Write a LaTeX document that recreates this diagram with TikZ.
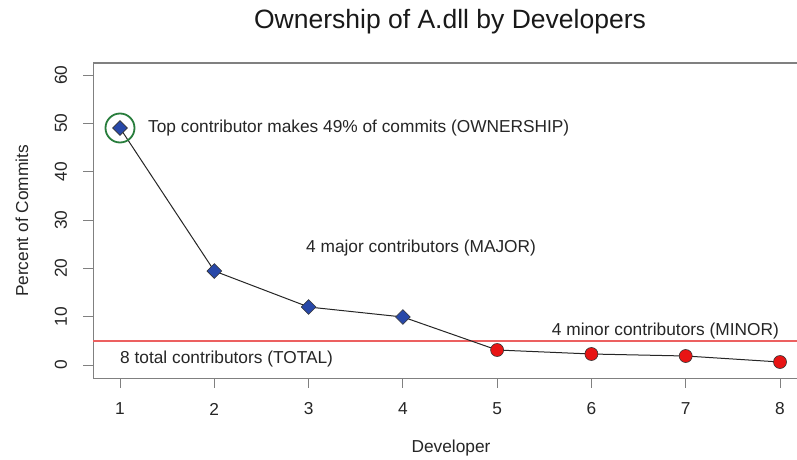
\documentclass[tikz,border=0pt]{standalone}
\usepackage{fontspec}
\setmainfont{Liberation Sans}
\usetikzlibrary{shapes.geometric}
\definecolor{refline}{RGB}{236,96,96}
\definecolor{diamfill}{RGB}{40,72,168}
\definecolor{dotfill}{RGB}{232,20,20}
\definecolor{ringcol}{RGB}{40,125,60}
\definecolor{framecol}{RGB}{128,128,128}
\begin{document}
\begin{tikzpicture}[x=1pt,y=-1pt,
  txt/.style={inner sep=0pt,text=black!85,font=\fontsize{17.3}{20}\selectfont},
  axisline/.style={draw=framecol,line width=1pt},
  diam/.style={diamond,draw=black!80,fill=diamfill,line width=0.6pt,
               minimum size=15pt,inner sep=0pt},
  dot/.style={circle,draw=black!80,fill=dotfill,line width=0.6pt,
              minimum size=13pt,inner sep=0pt},
  ring/.style={circle,draw=ringcol,line width=1.8pt,minimum size=29pt,inner sep=0pt}]
\useasboundingbox (0,0) rectangle (797,460);
\fill[white] (0,0) rectangle (797,460);

% title
\node[txt,font=\fontsize{26.5}{30}\selectfont,text=black!90] (title) at (450,22) {Ownership of A.dll by Developers};

% plot frame (open on the right where the page ends)
\draw[axisline] (798,63) -- (93,63) -- (93,378) -- (798,378);

% y axis ticks and labels
\foreach \v/\yy in {0/365,10/316.7,20/268.3,30/220,40/171.7,50/123.3,60/75}{
  \draw[axisline] (83,\yy) -- (93,\yy);
  \node[txt,rotate=90] (ylab\v) at (61,\yy) {\v};
}
% x axis ticks and labels
\foreach \i/\xx in {1/120,2/214.3,3/308.6,4/402.9,5/497.1,6/591.4,7/685.7,8/780}{
  \draw[axisline] (\xx,378) -- (\xx,388);
  \node[txt] (xlab\i) at (\xx,409) {\i};
}

% axis titles
\node[txt] (xtitle) at (451,448) {Developer};
\node[txt,rotate=90] (ytitle) at (22,221) {Percent of Commits};

% threshold line at 5 percent
\coordinate (thl) at (93,341);
\coordinate (thr) at (797,341);
\draw[draw=refline,line width=1.1pt] (thl) -- (thr);

% data points
\coordinate (p1) at (120,128);
\coordinate (p2) at (214.3,271);
\coordinate (p3) at (308.6,307);
\coordinate (p4) at (402.9,317);
\coordinate (p5) at (497.1,350);
\coordinate (p6) at (591.4,354);
\coordinate (p7) at (685.7,356);
\coordinate (p8) at (780,362);

\draw[black!85,line width=1pt] (p1) -- (p2) -- (p3) -- (p4) -- (p5) -- (p6) -- (p7) -- (p8);

\foreach \k in {1,2,3,4}{ \node[diam] (m\k) at (p\k) {}; }
\foreach \k in {5,6,7,8}{ \node[dot] (m\k) at (p\k) {}; }
\node[ring] (own) at (p1) {};

% annotations
\node[txt,anchor=west] (aown) at (148,128) {Top contributor makes 49\% of commits (OWNERSHIP)};
\node[txt,anchor=west] (amaj) at (306,248) {4 major contributors (MAJOR)};
\node[txt,anchor=east] (amin) at (779,331) {4 minor contributors (MINOR)};
\node[txt,anchor=west] (atot) at (120,359) {8 total contributors (TOTAL)};
\end{tikzpicture}
\end{document}
